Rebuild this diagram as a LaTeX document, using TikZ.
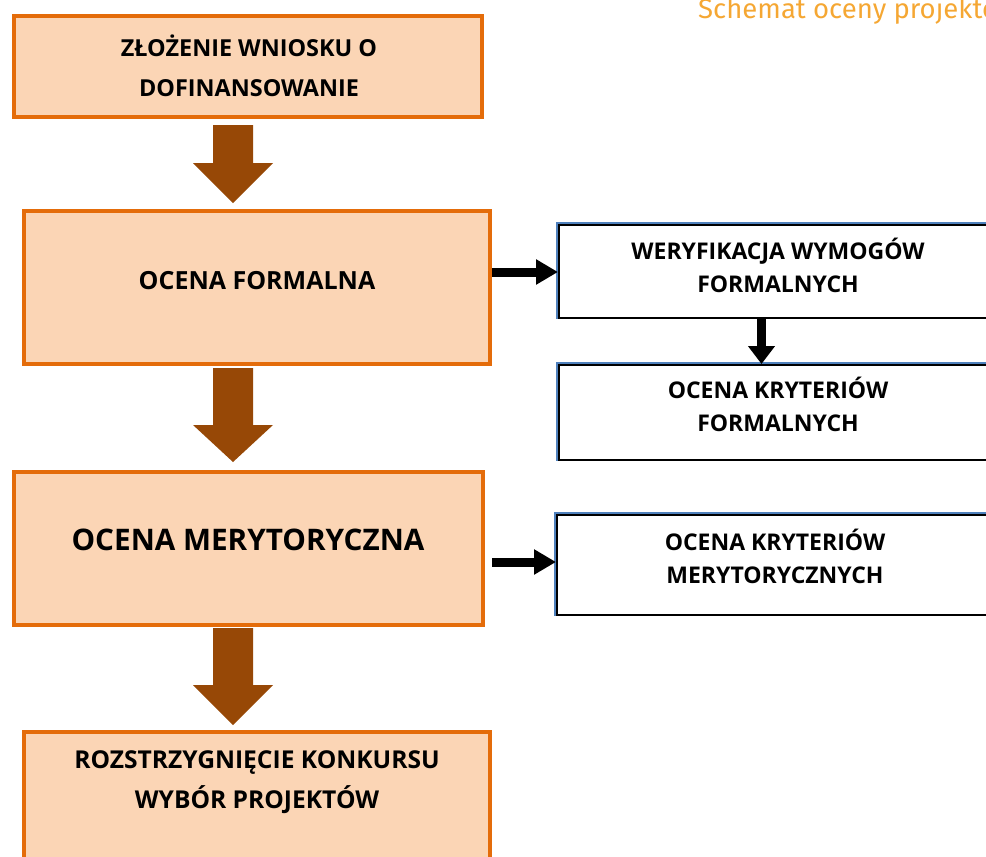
\documentclass[tikz,border=0pt]{standalone}
\usepackage{fontspec}
\setmainfont{Open Sans}
\newfontfamily\titlefont{Fira Sans}
\usetikzlibrary{arrows.meta,calc}
\definecolor{boxfill}{HTML}{FBD5B5}
\definecolor{boxline}{HTML}{E46C0A}
\definecolor{arrowbrown}{HTML}{974806}
\definecolor{edgeblue}{HTML}{4F81BD}
\definecolor{titleorange}{HTML}{F5A733}
\newcommand\fatarrow[3]{%
  \fill[arrowbrown] ($(#1)+(-20,0)$) -- ($(#1)+(20,0)$) -- ($(#2)+(20,0)$) -- ($(#2)+(40,0)$) -- (#3) -- ($(#2)+(-40,0)$) -- ($(#2)+(-20,0)$) -- cycle;}
\begin{document}
\begin{tikzpicture}[x=1pt,y=-1pt,
  mainbox/.style={draw=boxline, fill=boxfill, line width=4pt, inner sep=0pt},
  sidebox/.style={draw=black, fill=white, line width=2pt, inner sep=0pt, minimum width=440pt},
  blueedge/.style={draw=edgeblue, line width=2pt},
  lbl/.style={align=center, inner sep=0pt, font=\bfseries},
  blackarrow/.style={draw=black, line width=9pt, -{Triangle[length=22pt,width=24pt]}},
  blackarrowv/.style={draw=black, line width=9pt, -{Triangle[length=18pt,width=26pt]}}]
\useasboundingbox (0,0) rectangle (986,857);
\begin{scope}
\clip (0,0) rectangle (986,857);
% title
\node[anchor=base west, inner sep=0pt, text=titleorange, font=\titlefont\fontsize{27.5}{30}\selectfont] (title) at (698,18) {Schemat oceny projektów};
% main boxes
\node[mainbox, minimum width=468pt, minimum height=101pt] (b1) at (248,66.5) {};
\node[mainbox, minimum width=466pt, minimum height=153pt] (b2) at (257,287.5) {};
\node[mainbox, minimum width=469pt, minimum height=153pt] (b3) at (248.5,548.5) {};
\node[mainbox, minimum width=466pt, minimum height=160pt] (b4) at (257,812) {};
% side boxes
\node[sidebox, minimum height=93pt, anchor=north west] (b5) at (558,224) {};
\node[sidebox, minimum height=95pt, anchor=north west] (b6) at (558,364) {};
\node[sidebox, minimum height=100pt, anchor=north west] (b7) at (556,514) {};
\foreach \b in {b5,b6,b7}{
  \draw[blueedge] ([xshift=-1.4pt,yshift=1.4pt]\b.north east) -- ([xshift=-1.4pt,yshift=1.4pt]\b.north west) -- ([xshift=-1.4pt]\b.south west);
}
% labels
\node[lbl, font=\bfseries\fontsize{23.4}{40}\selectfont] (t1) at (249,66) {ZŁOŻENIE WNIOSKU O\\DOFINANSOWANIE};
\node[lbl, font=\bfseries\fontsize{25}{40}\selectfont] (t2) at (257,281) {OCENA FORMALNA};
\node[lbl, font=\bfseries\fontsize{29.7}{40}\selectfont] (t3) at (248,540) {OCENA MERYTORYCZNA};
\node[lbl, font=\bfseries\fontsize{24.6}{40}\selectfont] (t4) at (257,782) {ROZSTRZYGNIĘCIE KONKURSU\\WYBÓR PROJEKTÓW};
\node[lbl, font=\bfseries\fontsize{23}{33}\selectfont] (t5) at (778,265.5) {WERYFIKACJA WYMOGÓW\\FORMALNYCH};
\node[lbl, font=\bfseries\fontsize{23}{33}\selectfont] (t6) at (778,404.5) {OCENA KRYTERIÓW\\FORMALNYCH};
\node[lbl, font=\bfseries\fontsize{23}{33}\selectfont] (t7) at (775,556) {OCENA KRYTERIÓW\\MERYTORYCZNYCH};
% brown arrows
\coordinate (a1s) at (233,125); \coordinate (a1h) at (233,163); \coordinate (a1t) at (233,203);
\coordinate (a2s) at (233,368); \coordinate (a2h) at (233,425); \coordinate (a2t) at (233,462);
\coordinate (a3s) at (233,628); \coordinate (a3h) at (233,685); \coordinate (a3t) at (233,725);
\fatarrow{a1s}{a1h}{a1t}
\fatarrow{a2s}{a2h}{a2t}
\fatarrow{a3s}{a3h}{a3t}
% black arrows
\coordinate (c1) at (492,272);
\draw[blackarrow] (c1) -- (b5.west |- c1);
\coordinate (c2) at (761.5,318);
\draw[blackarrowv] (b5.south -| c2) -- (b6.north -| c2);
\coordinate (c3) at (492,562);
\draw[blackarrow] (c3) -- (b7.west |- c3);
\end{scope}
\end{tikzpicture}
\end{document}
